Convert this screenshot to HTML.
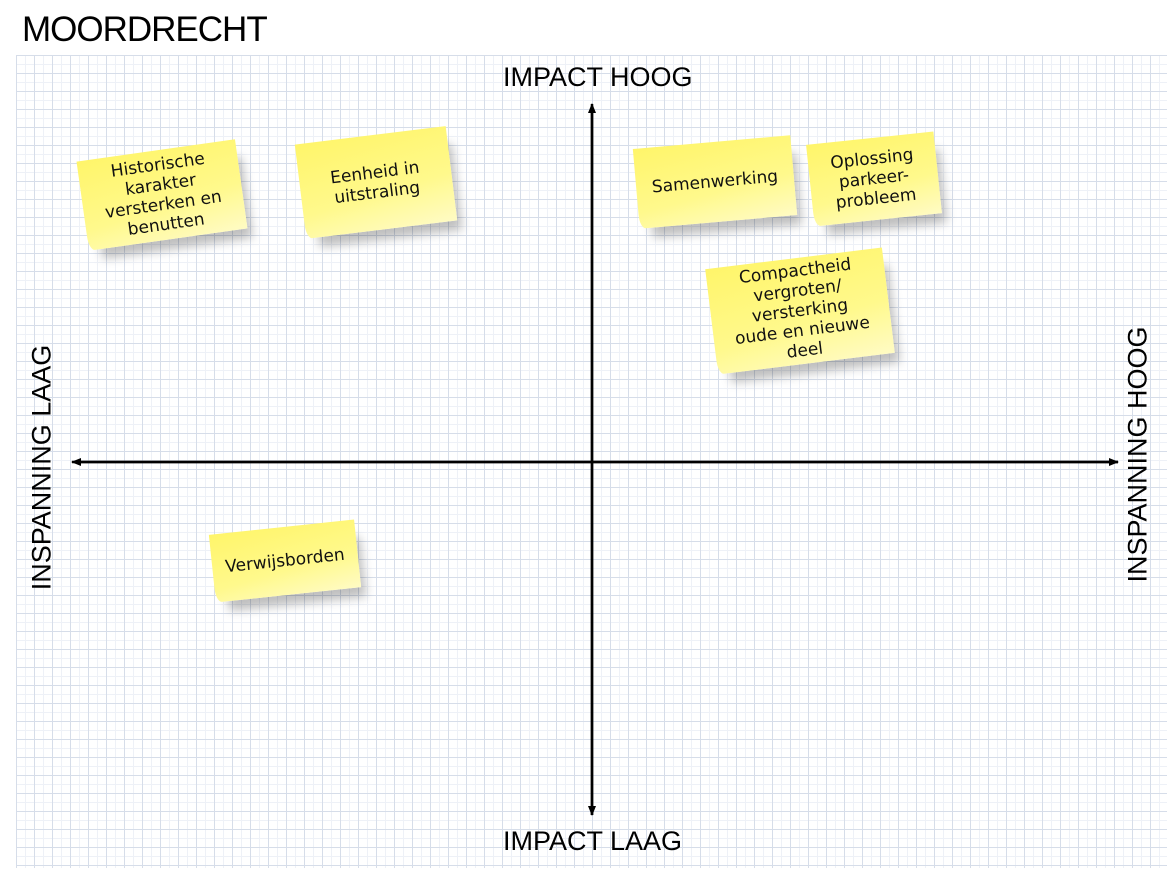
<!DOCTYPE html>
<html><head><meta charset="utf-8"><style>
body{margin:0;width:1169px;height:876px;background:#fff;position:relative;overflow:hidden;font-family:"Liberation Sans",sans-serif}
.grid{position:absolute;left:16px;top:55px;width:1151px;height:813px;background-color:#fff;
background-image:linear-gradient(#d6dde9 1px,transparent 1px),linear-gradient(90deg,#d6dde9 1px,transparent 1px),linear-gradient(#eef1f7 1px,transparent 1px),linear-gradient(90deg,#eef1f7 1px,transparent 1px);
background-size:18px 18px,18px 18px,9px 9px,9px 9px}
.t{position:absolute;color:#000;font-size:35px;white-space:nowrap}
.ax{position:absolute;font-size:27px;white-space:nowrap}
.note{position:absolute;background:linear-gradient(170deg,#fff56a 0%,#fff98c 60%,#fffbc4 100%);
box-shadow:8px 14px 10px -4px rgba(0,0,0,0.25);display:flex;align-items:center;justify-content:center;text-align:center;
font-family:"DejaVu Sans",sans-serif;font-size:17px;line-height:20px;color:#111;border-bottom-left-radius:6px 14px}
</style></head><body>
<div class="t" style="left:22px;top:10px;letter-spacing:-1px">MOORDRECHT</div>
<div class="grid"></div>
<svg style="position:absolute;left:0;top:0" width="1169" height="876">
<defs><marker id="a" markerWidth="10" markerHeight="10" refX="9" refY="5" orient="auto" markerUnits="userSpaceOnUse"><path d="M0,1 L10,5 L0,9 z" fill="#000"/></marker></defs>
<line x1="592" y1="815" x2="592" y2="104" stroke="#000" stroke-width="2.5" marker-end="url(#a)"/>
<line x1="592" y1="110" x2="592" y2="815" stroke="#000" stroke-width="2.5" marker-end="url(#a)"/>
<line x1="1118" y1="462" x2="72" y2="462" stroke="#000" stroke-width="2.5" marker-end="url(#a)"/>
<line x1="80" y1="462" x2="1118" y2="462" stroke="#000" stroke-width="2.5" marker-end="url(#a)"/>
</svg>
<div class="ax" style="left:503px;top:62px">IMPACT HOOG</div>
<div class="ax" style="left:503px;top:826px">IMPACT LAAG</div>
<div class="ax" style="left:-83px;top:452px;transform:rotate(-90deg);transform-origin:center;width:250px;text-align:center">INSPANNING LAAG</div>
<div class="ax" style="left:1013px;top:442px;transform:rotate(-90deg);transform-origin:center;width:250px;text-align:center">INSPANNING HOOG</div>
<div class="note" style="left:82px;top:150px;width:160px;height:90px;transform:rotate(-8deg)">Historische<br>karakter<br>versterken en<br>benutten</div>
<div class="note" style="left:300px;top:135px;width:152px;height:95px;transform:rotate(-7deg)">Eenheid in<br>uitstraling</div>
<div class="note" style="left:636px;top:142px;width:158px;height:80px;transform:rotate(-5deg)">Samenwerking</div>
<div class="note" style="left:810px;top:138px;width:128px;height:82px;transform:rotate(-6deg)">Oplossing<br>parkeer-<br>probleem</div>
<div class="note" style="left:711px;top:258px;width:178px;height:106px;transform:rotate(-7deg)">Compactheid<br>vergroten/<br>versterking<br>oude en nieuwe<br>deel</div>
<div class="note" style="left:212px;top:527px;width:146px;height:68px;transform:rotate(-6deg)">Verwijsborden</div>
</body></html>
